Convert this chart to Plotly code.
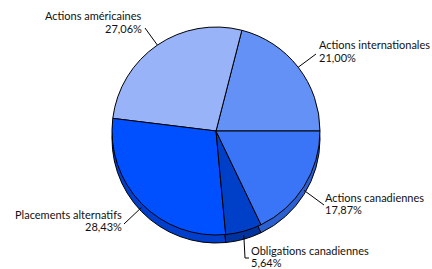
import math
import plotly.graph_objects as go

labels = ["Actions internationales", "Actions américaines", "Placements alternatifs",
          "Obligations canadiennes", "Actions canadiennes"]
values = [21.00, 27.06, 28.43, 5.64, 17.87]
value_text = ["21,00%", "27,06%", "28,43%", "5,64%", "17,87%"]

top_colors = ["#6491F5", "#99B3F8", "#0050FF", "#0040C8", "#3A75F8"]
side_colors = ["#4A72C8", "#7A90CC", "#003FCC", "#0032A0", "#2C5FD0"]

W, H = 432, 269
cx, cy, R, depth = 216, 131, 104, 8

total = sum(values)
# plotly's counterclockwise pie ends its first slice at the rotation angle;
# we want the first slice to start at 3 o'clock
rot = 90 - values[0] / total * 360

def px_dom(x0, x1, y0, y1):
    return dict(x=[x0 / W, x1 / W], y=[1 - y1 / H, 1 - y0 / H])

fig = go.Figure()
fig.add_trace(go.Pie(
    labels=labels, values=values, sort=False, direction="counterclockwise", rotation=rot,
    marker=dict(colors=side_colors, line=dict(color="black", width=1)),
    textinfo="none", hoverinfo="skip", showlegend=False,
    domain=px_dom(cx - R, cx + R, cy - R + depth, cy + R + depth),
))
fig.add_trace(go.Pie(
    labels=labels, values=values, sort=False, direction="counterclockwise", rotation=rot,
    marker=dict(colors=top_colors, line=dict(color="black", width=1)),
    textinfo="none", hoverinfo="label+percent", showlegend=False,
    domain=px_dom(cx - R, cx + R, cy - R, cy + R),
))

# label placement (pixels): x edge, centre y of the two lines, alignment
label_pos = [(317, 45, 57, "left"), (144, 16, 28, "right"), (124, 214, 226, "right"),
             (249, 250, 262, "left"), (323, 197, 209, "left")]
leader_pts = [[(316, 54)], [(145, 28)], [(124, 224)], [(245, 258), (249, 258)], [(324, 205)]]

start = 0.0
for i, v in enumerate(values):
    mid = start + v / total * 360 / 2
    start += v / total * 360
    a = math.radians(mid)
    ex = cx + R * math.cos(a)
    ey = cy - R * math.sin(a)
    if math.sin(a) < 0:
        ey += depth / 2
    pts = [(ex, ey)] + leader_pts[i]
    for (x0, y0), (x1, y1) in zip(pts[:-1], pts[1:]):
        fig.add_shape(type="line", xref="paper", yref="paper",
                      x0=x0 / W, y0=1 - y0 / H, x1=x1 / W, y1=1 - y1 / H,
                      line=dict(color="black", width=1))
    lx, ly1, ly2, al = label_pos[i]
    for txt, ly in ((labels[i], ly1), (value_text[i], ly2)):
        fig.add_annotation(xref="paper", yref="paper", x=lx / W, y=1 - ly / H,
                           text=txt, showarrow=False,
                           xanchor=al, yanchor="middle", align=al,
                           font=dict(family="Lato", size=11, color="#111111"))

fig.update_layout(width=W, height=H, margin=dict(l=0, r=0, t=0, b=0),
                  paper_bgcolor="white", plot_bgcolor="white")
fig.write_html("out.html", config={"displayModeBar": False},
               post_script="document.body.style.margin='0';")
